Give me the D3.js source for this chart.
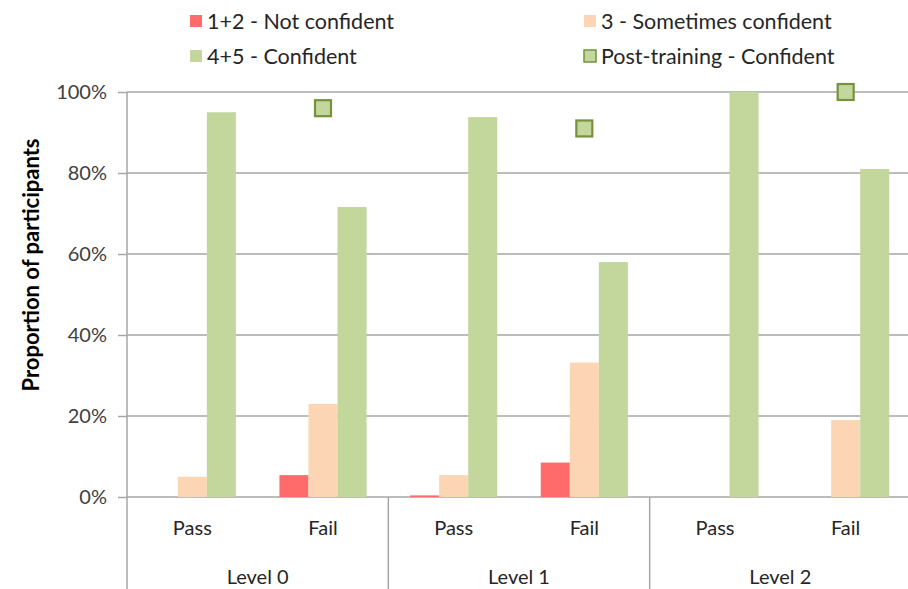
<!DOCTYPE html>
<html>
<head>
<meta charset="utf-8">
<script src="https://cdn.jsdelivr.net/npm/d3@7"></script>
<style>
  html, body { margin: 0; padding: 0; background: #fff; }
  svg { display: block; font-family: Lato, "Open Sans", sans-serif; }
</style>
</head>
<body>
<svg id="chart" width="908" height="589"></svg>
<script>
// Confidence ratings by level and assessment outcome
const levels = ["Level 0", "Level 1", "Level 2"];
const outcomes = ["Pass", "Fail"];
const seriesNames = ["1+2 - Not confident", "3 - Sometimes confident", "4+5 - Confident"];
const markerName = "Post-training - Confident";

// one value per level/outcome pair, in order L0 Pass, L0 Fail, L1 Pass, ...
const notConfident   = [0.000, 0.054, 0.004, 0.085, 0.000, 0.000];
const sometimesConf  = [0.050, 0.230, 0.054, 0.332, 0.000, 0.190];
const confident      = [0.950, 0.716, 0.938, 0.580, 1.000, 0.810];
// post-training confidence, one per level
const postTraining   = [0.96, 0.91, 1.00];

const yTicks = [0, 0.2, 0.4, 0.6, 0.8, 1.0];
const seriesColors = ["#FF6B6B", "#FCD5B4", "#C3D69B"];
const markerFill = "#C3D69B", markerStroke = "#76923C";

const svg = d3.select("#chart");
const plot = { left: 127, right: 911, top: 92, bottom: 497 };

const y = d3.scaleLinear().domain([0, 1]).range([plot.bottom, plot.top]);
const xLevel = d3.scaleBand().domain(levels).range([plot.left, plot.right]);
const xOutcome = d3.scaleBand().domain(outcomes).range([0, xLevel.bandwidth()]);
const xSeries = d3.scaleBand().domain(seriesNames).range([0, xOutcome.bandwidth()])
  .paddingInner(0).paddingOuter(0.75);

const seriesValues = [notConfident, sometimesConf, confident];
const rows = [];
levels.forEach((lv, li) => outcomes.forEach((oc, oi) => {
  const idx = li * outcomes.length + oi;
  seriesNames.forEach((s, si) => rows.push({ level: lv, outcome: oc, series: s, si, value: seriesValues[si][idx] }));
}));

// gridlines
const gridColor = "#A6A6A6";
svg.append("g").selectAll("line").data(yTicks).join("line")
  .attr("x1", plot.left).attr("x2", plot.right)
  .attr("y1", d => y(d)).attr("y2", d => y(d))
  .attr("stroke", gridColor).attr("stroke-width", 1.5);

// y axis
const yAxis = svg.append("g").attr("transform", `translate(${plot.left},0)`)
  .call(d3.axisLeft(y).tickValues(yTicks).tickFormat(d3.format(".0%")).tickSize(9).tickPadding(11));
yAxis.select(".domain").attr("stroke", gridColor).attr("stroke-width", 1.5)
  .attr("d", `M0,${plot.top}V${589}`);
yAxis.selectAll(".tick line").attr("stroke", gridColor).attr("stroke-width", 1.5);
yAxis.selectAll(".tick text").attr("font-size", 20).attr("fill", "#404040")
  .attr("font-family", "Lato, sans-serif");

// category separators below the axis
svg.append("g").selectAll("line").data(levels.slice(1).concat(["end"])).join("line")
  .attr("x1", (d, i) => i < levels.length - 1 ? xLevel(d) : plot.right)
  .attr("x2", (d, i) => i < levels.length - 1 ? xLevel(d) : plot.right)
  .attr("y1", plot.bottom).attr("y2", 589)
  .attr("stroke", gridColor).attr("stroke-width", 1.5);

// bars
svg.append("g").selectAll("rect").data(rows).join("rect")
  .attr("x", d => xLevel(d.level) + xOutcome(d.outcome) + xSeries(d.series))
  .attr("width", xSeries.bandwidth())
  .attr("y", d => y(d.value))
  .attr("height", d => y(0) - y(d.value))
  .attr("fill", d => seriesColors[d.si]);

// post-training markers at the Fail position of each level
const mSize = 16;
svg.append("g").selectAll("rect").data(levels).join("rect")
  .attr("x", d => xLevel(d) + xOutcome("Fail") + xOutcome.bandwidth() / 2 - mSize / 2)
  .attr("y", (d, i) => y(postTraining[i]) - mSize / 2)
  .attr("width", mSize).attr("height", mSize)
  .attr("fill", markerFill).attr("stroke", markerStroke).attr("stroke-width", 2.2);

// outcome labels
const cats = levels.flatMap(lv => outcomes.map(oc => ({ lv, oc })));
svg.append("g").selectAll("text").data(cats).join("text")
  .attr("x", d => xLevel(d.lv) + xOutcome(d.oc) + xOutcome.bandwidth() / 2)
  .attr("y", 535).attr("text-anchor", "middle")
  .attr("font-size", 20).attr("fill", "#262626").text(d => d.oc);

// level labels
svg.append("g").selectAll("text").data(levels).join("text")
  .attr("x", d => xLevel(d) + xLevel.bandwidth() / 2)
  .attr("y", 584).attr("text-anchor", "middle")
  .attr("font-size", 20).attr("fill", "#262626").text(d => d);

// y axis title
svg.append("text")
  .attr("transform", `translate(39,265) rotate(-90)`)
  .attr("text-anchor", "middle").attr("font-size", 22).attr("font-weight", "bold")
  .attr("fill", "#000").text("Proportion of participants");

// legend
const legendItems = [
  { name: seriesNames[0], fill: seriesColors[0], stroke: null, x: 190, y: 21 },
  { name: seriesNames[1], fill: seriesColors[1], stroke: null, x: 584, y: 21 },
  { name: seriesNames[2], fill: seriesColors[2], stroke: null, x: 190, y: 56 },
  { name: markerName, fill: markerFill, stroke: markerStroke, x: 584, y: 56 }
];
const lg = svg.append("g").selectAll("g").data(legendItems).join("g")
  .attr("transform", d => `translate(${d.x},${d.y})`);
lg.append("rect").attr("x", 0).attr("y", -6).attr("width", 12).attr("height", 12)
  .attr("fill", d => d.fill)
  .attr("stroke", d => d.stroke || "none").attr("stroke-width", 1.5);
lg.append("text").attr("x", 17).attr("y", 7.5).attr("font-size", 21.5)
  .attr("fill", "#262626").text(d => d.name);
</script>
</body>
</html>
